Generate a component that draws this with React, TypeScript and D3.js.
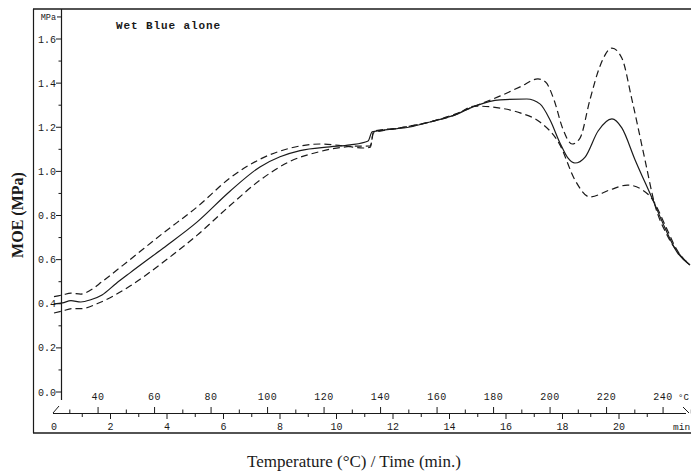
import React from "react";
import * as d3 from "d3";

// time in minutes
const meanTime = [0, 0.3, 0.6, 0.95, 1.3, 1.7, 2.2, 2.69, 3.86, 5.06, 6.23, 7.29, 8.0, 8.71, 9.77, 10.48, 11.12, 11.26, 11.72, 12.6, 13.31, 14.19, 14.9, 15.79, 16.74, 17.2, 17.56, 17.91, 18.19, 18.44, 18.8, 19.26, 19.75, 20.1, 20.57, 21.2, 21.63, 22.05, 22.51];
const meanMOE = [0.4, 0.404, 0.414, 0.408, 0.418, 0.44, 0.492, 0.54, 0.652, 0.77, 0.91, 1.02, 1.066, 1.094, 1.111, 1.12, 1.138, 1.179, 1.188, 1.201, 1.224, 1.256, 1.296, 1.324, 1.328, 1.306, 1.233, 1.129, 1.061, 1.038, 1.065, 1.183, 1.238, 1.197, 1.052, 0.87, 0.743, 0.635, 0.576];

const upperTime = [0, 0.3, 0.6, 0.95, 1.3, 1.7, 2.69, 3.86, 5.06, 6.23, 7.29, 8.35, 9.42, 10.3, 10.95, 11.2, 11.3, 12.25, 13.3, 14.2, 14.9, 15.8, 16.5, 17.13, 17.4, 17.7, 18.0, 18.34, 18.62, 18.97, 19.33, 19.75, 20.1, 20.46, 20.92, 21.27, 21.7, 22.16, 22.51];
const upperMOE = [0.432, 0.44, 0.448, 0.444, 0.462, 0.5, 0.6, 0.72, 0.838, 0.97, 1.055, 1.105, 1.124, 1.115, 1.106, 1.11, 1.174, 1.197, 1.224, 1.26, 1.296, 1.342, 1.383, 1.419, 1.405, 1.324, 1.197, 1.124, 1.151, 1.324, 1.478, 1.559, 1.514, 1.324, 1.052, 0.848, 0.712, 0.621, 0.576];

const lowerTime = [0, 0.3, 0.64, 0.99, 1.52, 2.69, 3.86, 5.06, 6.23, 7.29, 8.35, 9.42, 10.12, 10.65, 11.19, 11.33, 12.25, 13.3, 14.2, 14.9, 15.79, 16.5, 17.2, 17.91, 18.44, 18.97, 19.68, 20.3, 20.83, 21.2, 21.63, 22.05, 22.51];
const lowerMOE = [0.358, 0.367, 0.378, 0.378, 0.4, 0.48, 0.588, 0.71, 0.845, 0.96, 1.045, 1.09, 1.108, 1.114, 1.115, 1.183, 1.197, 1.224, 1.256, 1.296, 1.287, 1.265, 1.224, 1.12, 0.961, 0.884, 0.916, 0.938, 0.916, 0.87, 0.757, 0.644, 0.576];

const yTickValues = [0.0, 0.2, 0.4, 0.6, 0.8, 1.0, 1.2, 1.4, 1.6];
const tempLabels = [40, 60, 80, 100, 120, 140, 160, 180, 200, 220, 240];
const minuteLabels = [0, 2, 4, 6, 8, 10, 12, 14, 16, 18, 20];

const TITLE = "Wet Blue alone";

export default function App() {
  const W = 691, H = 472;
  const x = d3.scaleLinear().domain([0, 22.4]).range([54, 54 + 28.25 * 22.4]);
  const y = d3.scaleLinear().domain([0, 1.6]).range([392, 39]);
  const tToMin = (T: number) => (T - 24.4) / 10;

  const line = d3
    .line<[number, number]>()
    .x((d) => x(d[0]))
    .y((d) => y(d[1]))
    .curve(d3.curveMonotoneX);

  const zip = (a: number[], b: number[]) => a.map((v, i) => [v, b[i]] as [number, number]);

  const mono = "'Liberation Mono', 'DejaVu Sans Mono', monospace";
  const serif = "'Liberation Serif', 'Times New Roman', serif";
  const ink = "#1a1a1a";

  const minorY = d3.range(0, 17).map((i) => i / 10).filter((v) => Math.round(v * 10) % 2 === 1);
  const minorTemp = d3.range(30, 251, 10).filter((T) => !tempLabels.includes(T));
  const minorMin = d3.range(1, 23, 2);

  return (
    <svg width={W} height={H} style={{ position: "absolute", left: 0, top: 0, background: "#fff" }}>
      {/* frame */}
      <line x1={33} y1={9} x2={691} y2={9} stroke={ink} strokeWidth={1.5} />
      <line x1={33.5} y1={9} x2={33.5} y2={433} stroke={ink} strokeWidth={1.2} />
      <line x1={33} y1={433} x2={691} y2={433} stroke={ink} strokeWidth={1.5} />

      {/* y axis */}
      <line x1={61.5} y1={9} x2={61.5} y2={400} stroke={ink} strokeWidth={1.2} />
      {yTickValues.map((v) => (
        <g key={"yt" + v}>
          <line x1={56} x2={61.5} y1={y(v)} y2={y(v)} stroke={ink} strokeWidth={1} />
          <text x={56} y={y(v) + 3.5} textAnchor="end" fontFamily={mono} fontSize={10} fill={ink}>
            {v.toFixed(1)}
          </text>
        </g>
      ))}
      {minorY.map((v) => (
        <line key={"ym" + v} x1={58.5} x2={61.5} y1={y(v)} y2={y(v)} stroke={ink} strokeWidth={1} />
      ))}
      <line x1={57} x2={61.5} y1={y(1.7)} y2={y(1.7)} stroke={ink} strokeWidth={1} />
      <text x={56} y={y(1.7) + 3} textAnchor="end" fontFamily={mono} fontSize={8.5} fill={ink}>
        MPa
      </text>

      {/* x axis */}
      <line x1={53} y1={413.5} x2={686} y2={413.5} stroke={ink} strokeWidth={1.2} />
      <line x1={53} y1={413} x2={59} y2={406} stroke={ink} strokeWidth={1} />
      <line x1={683} y1={407} x2={689} y2={413} stroke={ink} strokeWidth={1} />
      {tempLabels.map((T) => (
        <g key={"tt" + T}>
          <line x1={x(tToMin(T))} x2={x(tToMin(T))} y1={407} y2={413.5} stroke={ink} strokeWidth={1} />
          <text x={x(tToMin(T))} y={400} textAnchor="middle" fontFamily={mono} fontSize={10} letterSpacing={0.5} fill={ink}>
            {T}
          </text>
        </g>
      ))}
      {minorTemp.map((T) => (
        <line key={"tm" + T} x1={x(tToMin(T))} x2={x(tToMin(T))} y1={409.5} y2={413.5} stroke={ink} strokeWidth={1} />
      ))}
      <text x={678} y={400} fontFamily={mono} fontSize={9} fill={ink}>°C</text>
      {minuteLabels.map((m) => (
        <g key={"mt" + m}>
          {m > 0 && <line x1={x(m)} x2={x(m)} y1={413.5} y2={419} stroke={ink} strokeWidth={1} />}
          <text x={x(m)} y={430} textAnchor="middle" fontFamily={mono} fontSize={10} fill={ink}>
            {m}
          </text>
        </g>
      ))}
      {minorMin.map((m) => (
        <line key={"mm" + m} x1={x(m)} x2={x(m)} y1={413.5} y2={417} stroke={ink} strokeWidth={1} />
      ))}
      <text x={673} y={430} fontFamily={mono} fontSize={9.5} fill={ink}>min</text>

      {/* title */}
      <text x={116} y={29} fontFamily={mono} fontSize={11} letterSpacing={0.9} fontWeight="bold" fill={ink}>
        {TITLE}
      </text>

      {/* curves */}
      <path d={line(zip(upperTime, upperMOE)) || ""} fill="none" stroke={ink} strokeWidth={1.2} strokeDasharray="7,4" />
      <path d={line(zip(lowerTime, lowerMOE)) || ""} fill="none" stroke={ink} strokeWidth={1.2} strokeDasharray="7,4" />
      <path d={line(zip(meanTime, meanMOE)) || ""} fill="none" stroke={ink} strokeWidth={1.2} />

      {/* axis labels */}
      <text
        transform="translate(23,215) rotate(-90)"
        textAnchor="middle"
        fontFamily={serif}
        fontWeight="bold"
        fontSize={16}
        fill={ink}
      >
        MOE (MPa)
      </text>
      <text x={354} y={467} textAnchor="middle" fontFamily={serif} fontSize={17} fill={ink}>
        Temperature (°C) / Time (min.)
      </text>
    </svg>
  );
}
